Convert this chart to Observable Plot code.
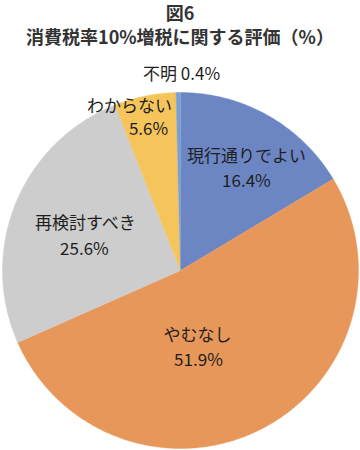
<!DOCTYPE html>
<html>
<head>
<meta charset="utf-8">
<script src="https://cdn.jsdelivr.net/npm/d3@7"></script>
<script src="https://cdn.jsdelivr.net/npm/@observablehq/plot@0.6"></script>
<style>
  html, body { margin: 0; padding: 0; background: #fff; }
  #wrap { width: 360px; height: 450px; overflow: hidden; }
  #title { height: 48px; box-sizing: border-box; padding-top: 1px; text-align: center;
    font-family: "Noto Sans CJK JP", sans-serif; font-weight: bold; font-size: 18px;
    line-height: 23.5px; color: #333; white-space: nowrap; }
  svg { display: block; }
</style>
</head>
<body>
<div id="wrap">
  <div id="title">図6<br>消費税率10%増税に関する評価（%）</div>
  <div id="chart"></div>
</div>
<script>
// ---- data ----
const categories = ["現行通りでよい", "やむなし", "再検討すべき", "わからない", "不明"];
const values = [16.4, 51.9, 25.6, 5.6, 0.4];
const valueLabels = ["16.4%", "51.9%", "25.6%", "5.6%", "0.4%"];

// ---- styles / layout ----
const colors = ["#6C86C4", "#E8975A", "#CDCDCD", "#F5C55C", "#7A9FD4"];
// label block positions in polar form (degrees clockwise from top, fraction of radius)
const labelAngle = [33.0, 167.3, 289.6, 344.8, 0.3];
const labelRadius = [0.680, 0.446, 0.570, 0.888, 1.101];
const nameDx = [0, -0.5, 0.5, -9.5, 0];
const valueDx = [0, 0.5, -0.5, 9.5, 0];
const lineGap = [12.5, 12.5, 13, 11.5, 0];
const singleLine = [false, false, false, false, true];

const W = 360, H = 402, R = 178, cx = 180, cy = 222;

// slice polygons via d3.pie
const arcs = d3.pie().sort(null).value((d, i) => values[i]).startAngle(0).endAngle(2 * Math.PI)(categories);
const slicePts = [];
arcs.forEach((a, i) => {
  const n = Math.max(2, Math.ceil((a.endAngle - a.startAngle) / 0.01));
  slicePts.push({cat: categories[i], x: 0, y: 0});
  for (let k = 0; k <= n; k++) {
    const t = a.startAngle + (a.endAngle - a.startAngle) * k / n;
    slicePts.push({cat: categories[i], x: Math.sin(t), y: Math.cos(t)});
  }
});

const labels = categories.map((c, i) => {
  const t = labelAngle[i] * Math.PI / 180;
  return {cat: c, val: valueLabels[i], x: labelRadius[i] * Math.sin(t), y: labelRadius[i] * Math.cos(t), i};
});
const twoLine = labels.filter(d => !singleLine[d.i]);
const oneLine = labels.filter(d => singleLine[d.i]);

const font = "'Noto Sans CJK JP', 'Noto Sans', sans-serif";
const marks = [
  Plot.line(slicePts, {x: "x", y: "y", z: "cat", fill: "cat", stroke: "cat", strokeWidth: 0.4, curve: "linear-closed"}),
];
twoLine.forEach(d => {
  marks.push(Plot.text([d], {x: "x", y: "y", text: "cat", dx: nameDx[d.i], dy: -lineGap[d.i], fontSize: 17, fontFamily: font, fill: "#1e1e1e"}));
  marks.push(Plot.text([d], {x: "x", y: "y", text: "val", dx: valueDx[d.i], dy: lineGap[d.i], fontSize: 17, fontFamily: font, fill: "#1e1e1e"}));
});
marks.push(Plot.text(oneLine, {x: "x", y: "y", text: d => d.cat + " " + d.val, fontSize: 17, fontFamily: font, fill: "#1e1e1e"}));

const chart = Plot.plot({
  width: W, height: H,
  margin: 0,
  x: {domain: [-1, 1], range: [cx - R, cx + R], axis: null},
  y: {domain: [-1, 1], range: [cy + R, cy - R], axis: null},
  color: {domain: categories, range: colors},
  style: {background: "white", overflow: "visible"},
  marks
});
document.getElementById("chart").appendChild(chart);
</script>
</body>
</html>
